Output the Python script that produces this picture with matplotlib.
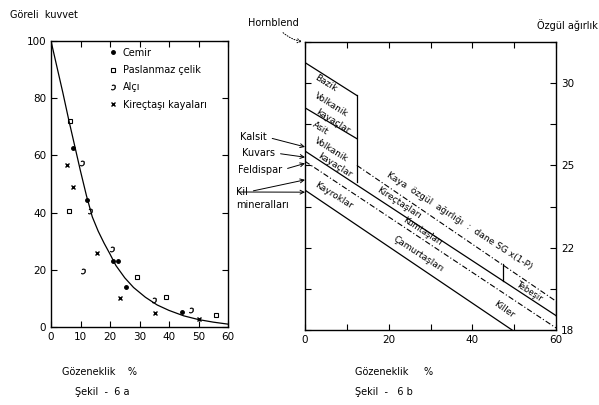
import numpy as np
import matplotlib.pyplot as plt

plt.rcParams['font.family'] = ['DejaVu Sans']

# --- Şekil 6a: göreli kuvvet - gözeneklik ---
curve_x = [0, 2, 4, 6, 8, 10, 12, 14, 16, 18, 20, 22, 25, 28, 32, 36, 40, 45, 50, 55, 60]
curve_y = [100, 91, 82, 72.5, 63.5, 54.5, 46, 38.5, 33.5, 29.3, 25.5, 21.5, 17.2, 13.8, 10.4, 7.7, 5.8, 3.9, 2.6, 1.7, 1.0]

cemir_x = [7.4, 12.1, 20.9, 22.8, 25.5, 44.3]
cemir_y = [62.5, 44.5, 23.1, 23.1, 13.9, 5.1]
celik_x = [6.4, 6.0, 29.0, 39.0, 56.0]
celik_y = [71.9, 40.7, 17.6, 10.4, 4.3]
alci_x = [10.6, 13.2, 20.8, 10.9, 47.6, 35.0]
alci_y = [57.3, 40.6, 27.2, 19.7, 6.0, 9.5]
kirec_x = [5.3, 7.3, 15.5, 23.3, 35.2, 50.1]
kirec_y = [56.7, 49.1, 25.8, 10.0, 5.0, 2.7]

# --- Şekil 6b: özgül ağırlık - gözeneklik ---
bazik_ust = ([0, 12.4], [3.10, 2.94])
bazik_alt = ([0, 12.4], [2.88, 2.73])
volkanik_sinir = ([12.4, 12.4], [2.94, 2.52])
asit_alt = ([0, 60], [2.67, 1.87])
kaya_sg = ([12.4, 60], [2.60, 1.94])
kumtasi = ([0, 60], [2.62, 1.81])
kil_cizgi = ([0, 49.5], [2.48, 1.80])
tebesir_sol = ([47.3, 47.3], [2.12, 2.04])
tebesir_sag = ([60, 60], [1.94, 1.87])

mineraller = ['Kalsit', 'Kuvars', 'Feldispar', 'Kil', '']
mineral_sg = [2.69, 2.64, 2.61, 2.53, 2.47]
mineral_text_px = [(240, 137), (242, 153), (238, 170), (236, 192), (236, 192)]

fig = plt.figure(figsize=(5.99, 4.05), dpi=100)
H = 405.0

# ---------- left panel ----------
ax1 = fig.add_axes([51 / 599, 1 - 327 / H, 177 / 599, 286 / H])
ax1.plot(curve_x, curve_y, color='black', lw=0.9)
ax1.plot(cemir_x, cemir_y, 'o', color='black', ms=2.5, label='Cemir')
ax1.plot(celik_x, celik_y, 's', mfc='none', mec='black', ms=3.5, mew=0.8, label='Paslanmaz çelik')
ax1.plot(alci_x, alci_y, marker='$ɔ$', ls='none', color='black', ms=3.8, mew=0.3, label='Alçı')
ax1.plot(kirec_x, kirec_y, 'x', color='black', ms=2.5, mew=1.0, label='Kireçtaşı kayaları')
ax1.set_xlim(0, 60)
ax1.set_ylim(0, 100)
ax1.set_xticks(range(0, 61, 10))
ax1.set_yticks(range(0, 101, 20))
ax1.tick_params(direction='in', top=True, right=True, length=4, width=0.8, labelsize=7.5)
for s in ax1.spines.values():
    s.set_linewidth(1.0)
ax1.legend(loc='upper left', bbox_to_anchor=(0.3, 0.99), frameon=False, fontsize=7,
           handlelength=1.0, handletextpad=0.5, labelspacing=0.75, borderaxespad=0)

fig.text(10 / 599, 1 - 15 / H, 'Göreli  kuvvet', fontsize=7, va='center', ha='left')
fig.text(62 / 599, 1 - 372 / H, 'Gözeneklik    %', fontsize=7, va='center', ha='left')
fig.text(75 / 599, 1 - 392 / H, 'Şekil  -  6 a', fontsize=7, va='center', ha='left')

# ---------- right panel ----------
ax2 = fig.add_axes([305 / 599, 1 - 330 / H, 251 / 599, 288 / H])
for xs, ys in [bazik_ust, bazik_alt, volkanik_sinir, asit_alt, kil_cizgi, tebesir_sol, tebesir_sag]:
    ax2.plot(xs, ys, color='black', lw=0.9)
for xs, ys in [kaya_sg, kumtasi]:
    ax2.plot(xs, ys, color='black', lw=0.8, ls=(0, (5, 2, 1, 2)))
ax2.set_xlim(0, 60)
ax2.set_ylim(1.8, 3.2)
ax2.set_xticks(range(0, 61, 10))
ax2.set_xticklabels(['0', '', '20', '', '40', '', '60'])
ax2.yaxis.tick_right()
ax2.set_yticks(np.arange(1.8, 3.21, 0.2))
ax2.set_yticklabels(['18', '', '22', '', '25', '', '30', ''])
ax2.tick_params(direction='in', top=True, left=True, right=True, length=4, width=0.8, labelsize=7.5)
for s in ax2.spines.values():
    s.set_linewidth(1.0)

rot = -32
etiketler = [
    ('Bazik', 5.0, 3.00, rot, 6.5), ('Volkanik', 6.2, 2.895, rot, 6.5), ('kayaçlar', 6.7, 2.815, rot, 6.5),
    ('Asit', 3.6, 2.78, rot, 6.5), ('Volkanik', 6.3, 2.675, rot, 6.5), ('kayaçlar', 7.0, 2.60, rot, 6.5),
    ('Kayroklar', 6.8, 2.455, rot, 6.5),
    ('Kaya  özgül  ağırlığı  :  dane SG x(1-P)', 37.0, 2.33, -33, 6.5),
    ('Kireçtaşları', 22.5, 2.415, -33, 6.5), ('Kumtaşları', 28.0, 2.28, -33, 6),
    ('Çamurtaşları', 27.0, 2.17, -33, 6.5), ('Killer', 47.5, 1.90, -35, 6.5),
    ('Tebeşir', 53.6, 1.99, -33, 6),
]
for t, x, y, r, fs in etiketler:
    ax2.text(x, y, t, fontsize=fs, rotation=r, rotation_mode='anchor', ha='center', va='center')

ax2.annotate('Hornblend', xy=(0, 3.2), xytext=(248, H - 23), textcoords='figure pixels',
             fontsize=7, va='center', ha='left',
             arrowprops=dict(arrowstyle='->', lw=0.7, color='black', ls=':',
                             connectionstyle='arc3,rad=0.2', relpos=(0.6, 0)))
for name, sg, (px, py) in zip(mineraller, mineral_sg, mineral_text_px):
    ax2.annotate(name, xy=(0, sg), xytext=(px, H - py), textcoords='figure pixels',
                 fontsize=7, va='center', ha='left', annotation_clip=False,
                 arrowprops=dict(arrowstyle='->', lw=0.7, color='black', shrinkA=2, shrinkB=0,
                                 relpos=(1, 0.5) if name else (0.05, 0.5)))
fig.text(236 / 599, 1 - 205 / H, 'mineralları', fontsize=7, va='center', ha='left')

fig.text(598 / 599, 1 - 25 / H, 'Özgül ağırlık', fontsize=7, va='center', ha='right')
fig.text(355 / 599, 1 - 372 / H, 'Gözeneklik     %', fontsize=7, va='center', ha='left')
fig.text(355 / 599, 1 - 392 / H, 'Şekil  -   6 b', fontsize=7, va='center', ha='left')

fig.savefig('out.png', dpi=100)
